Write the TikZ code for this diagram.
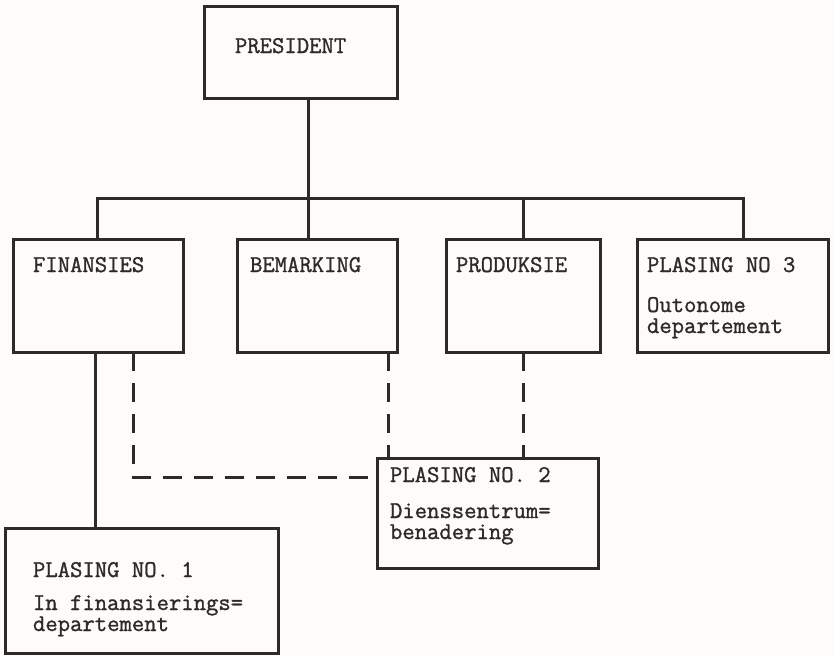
\documentclass[tikz,border=0pt]{standalone}
\usepackage{fontspec}
\setmonofont[FakeBold=1.2]{Latin Modern Mono}
\definecolor{ink}{HTML}{2E2A28}
\definecolor{paper}{HTML}{FDFCF8}
\begin{document}
\begin{tikzpicture}[x=1pt,y=-1pt,
  ink,
  box/.style={draw=ink, line width=3pt, inner sep=0pt, outer sep=0pt},
  txt/.style={anchor=base west, inner sep=0pt, outer sep=0pt, text=ink,
    align=left, font=\ttfamily\fontsize{24}{21}\selectfont},
  link/.style={draw=ink, line width=3pt},
  dlink/.style={draw=ink, line width=3pt, dash pattern=on 19pt off 12pt}]
\fill[paper] (0,0) rectangle (833,656);
\useasboundingbox (0,0) rectangle (833,656);

% boxes: corner coordinates
\coordinate (presA) at (204,6);   \coordinate (presB) at (397,98);
\coordinate (finA) at (13,239);   \coordinate (finB) at (183,352);
\coordinate (bemA) at (237,239);  \coordinate (bemB) at (397,352);
\coordinate (proA) at (446,239);  \coordinate (proB) at (600,352);
\coordinate (plaA) at (637,239);  \coordinate (plaB) at (828,352);
\coordinate (pl1A) at (5,528);    \coordinate (pl1B) at (278,653);
\coordinate (pl2A) at (377,458);  \coordinate (pl2B) at (598,568);

\draw[box] (presA) rectangle (presB);
\draw[box] (finA) rectangle (finB);
\draw[box] (bemA) rectangle (bemB);
\draw[box] (proA) rectangle (proB);
\draw[box] (plaA) rectangle (plaB);
\draw[box] (pl1A) rectangle (pl1B);
\draw[box] (pl2A) rectangle (pl2B);

% labels; a two-line node sits on the baseline of its last line
\node[txt] (tpres) at (235,53) {PRESIDENT};
\node[txt] (tfin) at (33,272) {FINANSIES};
\node[txt] (tbem) at (250,272) {BEMARKING};
\node[txt] (tpro) at (456,272) {PRODUKSIE};
\node[txt] (tpl3) at (647,272) {PLASING NO 3};
\node[txt] (dpl3) at (647,333) {Outonome\\departement};
\node[txt] (tpl1) at (33,577) {PLASING NO. 1};
\node[txt] (dpl1) at (33,631) {In finansierings=\\departement};
\node[txt] (tpl2) at (390,482) {PLASING NO. 2};
\node[txt] (dpl2) at (390,539) {Dienssentrum=\\benadering};

% solid line structure
\coordinate (presFoot) at (308,98);
\coordinate (busL) at (97,198);
\coordinate (busR) at (743,198);
\draw[link] (presFoot) -- (308,239);
\draw[link] (busL |- finA) -- (busL) -- (busR) -- (busR |- plaA);
\draw[link] (523,198) -- (523,239);
\draw[link] (95,352) -- (95,528);

% dashed links to the service centre
\coordinate (dnFin) at (133,352);
\coordinate (dnBend) at (133,477);
\draw[dlink] (dnFin) -- (dnBend) -- (377,477);
\draw[dlink] (388,352) -- (388,458);
\draw[dlink] (523,352) -- (523,458);
\end{tikzpicture}
\end{document}
